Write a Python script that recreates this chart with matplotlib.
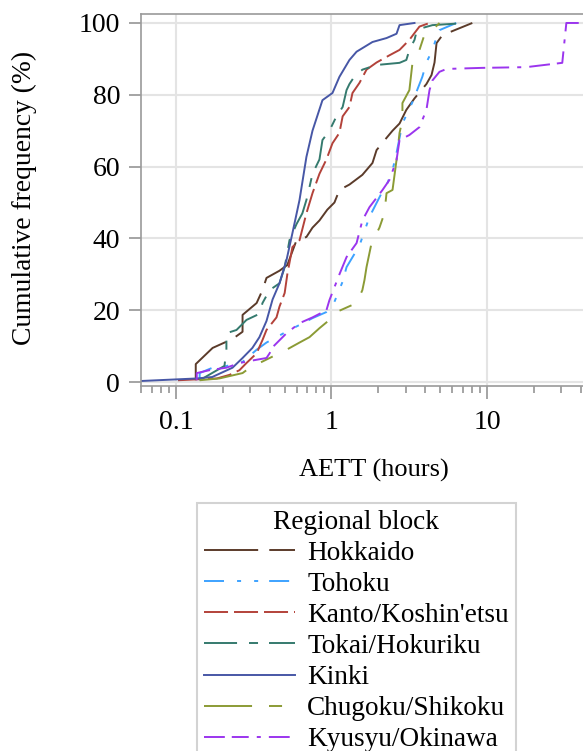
import matplotlib
matplotlib.use("Agg")
import matplotlib.pyplot as plt
from matplotlib.ticker import NullFormatter

# cumulative frequency curves (x = AETT in hours, y = %)
hokkaido_x = [0.134, 0.134, 0.172, 0.231, 0.268, 0.268, 0.33, 0.36, 0.382, 0.463, 0.52, 0.596, 0.69,
              0.755, 0.837, 0.94, 1.045, 1.125, 1.305, 1.58, 1.835, 1.95, 2.26, 2.47, 2.74, 3.03, 3.42,
              4.08, 4.4, 4.6, 4.74, 5.17, 6.2, 8.05]
hokkaido_y = [0.5, 5, 9.5, 12, 14, 18.7, 22, 25.6, 29, 31, 32.6, 39.5, 40.4, 43, 45, 48, 50, 53.5, 55,
              57.7, 61, 64.6, 68, 70, 72, 75.8, 79, 83, 85.5, 89, 94.4, 96.6, 98, 100]

tohoku_x = [0.142, 0.142, 0.172, 0.2, 0.268, 0.33, 0.382, 0.443, 0.537, 0.623, 0.755, 0.928, 1.015,
            1.18, 1.25, 1.513, 1.63, 1.755, 2.1, 2.29, 2.47, 2.62, 2.86, 3.32, 3.84, 4.08, 4.46, 4.74,
            4.95, 6.35]
tohoku_y = [0.5, 2.5, 4, 4.2, 5.6, 9, 11, 12.5, 14.5, 15.9, 17.8, 19.5, 21, 28, 32, 38, 42, 46, 52.6,
            55.4, 59, 63.8, 72, 78, 85, 89, 92.5, 96, 98, 100]

kanto_x = [0.103, 0.183, 0.221, 0.256, 0.284, 0.33, 0.36, 0.382, 0.443, 0.463, 0.5, 0.52, 0.561, 0.623,
           0.69, 0.755, 0.837, 0.928, 1.015, 1.125, 1.18, 1.305, 1.365, 1.513, 1.68, 1.95, 2.36, 2.74,
           3.17, 3.42, 3.68, 4.27]
kanto_y = [0.5, 1, 2, 3.3, 5.3, 8, 11.7, 14.5, 18, 21, 24.8, 30, 37.6, 39.5, 47, 52.6, 58, 62, 66.5,
           69.4, 74, 76.6, 80.5, 83.3, 87, 89, 91, 92.5, 95.3, 97.2, 99, 100]

tokai_x = [0.142, 0.205, 0.211, 0.211, 0.245, 0.284, 0.344, 0.36, 0.4, 0.463, 0.5, 0.537, 0.596, 0.65,
           0.69, 0.722, 0.755, 0.837, 0.875, 0.97, 1.077, 1.18, 1.25, 1.305, 1.4, 1.58, 1.95, 2.74,
           3.03, 3.17, 3.42, 3.52, 3.84, 4.46, 7.4]
tokai_y = [0.5, 4.5, 9, 13.6, 14.5, 17.3, 19, 22, 25.6, 27.5, 32, 39.5, 44, 47, 50.7, 54.3, 58, 62,
           67.4, 70, 74, 76.6, 81.3, 83, 85, 87, 88.3, 88.9, 89.7, 92.5, 95.3, 97.5, 98.6, 99.4, 100]

kinki_x = [0.06, 0.136, 0.171, 0.231, 0.268, 0.31, 0.344, 0.382, 0.418, 0.463, 0.514, 0.561, 0.623,
           0.69, 0.755, 0.875, 1.015, 1.125, 1.305, 1.45, 1.835, 2.26, 2.62, 2.74, 3.42]
kinki_y = [0.3, 1, 1.4, 4, 6.7, 9.5, 12.5, 17, 23, 27.5, 34, 41.5, 50.7, 62.7, 70, 78.5, 80.5, 85,
           89.7, 92, 94.7, 95.8, 97, 99.4, 100]

chugoku_x = [0.142, 0.19, 0.268, 0.284, 0.344, 0.514, 0.623, 0.722, 0.837, 1.015, 1.077, 1.45, 1.58,
             1.63, 1.68, 1.81, 2.035, 2.19, 2.26, 2.47, 2.62, 2.74, 2.86, 2.86, 3.17, 3.32, 3.68, 3.96,
             4.27, 4.95]
chugoku_y = [0.5, 1, 2.5, 3.3, 5.3, 9, 11, 12.5, 15, 18, 19.5, 22, 25.6, 28.4, 32, 38.7, 43, 47, 52.6,
             53.5, 61.8, 69.4, 73, 77.7, 81.3, 89, 92.5, 96.7, 97.2, 100]

kyusyu_x = [0.136, 0.136, 0.164, 0.211, 0.256, 0.31, 0.382, 0.4, 0.418, 0.514, 0.623, 0.755, 0.928,
            0.97, 1.125, 1.25, 1.45, 1.58, 1.755, 2.13, 2.36, 2.62, 2.74, 3.17, 3.68, 4.08, 4.27, 4.46,
            4.95, 5.5, 9.35, 17.9, 30.5, 32.4, 80]
kyusyu_y = [0.5, 2.5, 3.3, 4, 5.3, 6, 6.7, 8, 9.7, 13.6, 16.4, 18, 20, 22.8, 30, 34.8, 38.7, 45, 48.7,
            53.5, 56.3, 61.8, 67.4, 68.8, 71, 75.8, 81.3, 84, 86.4, 87.2, 87.5, 87.7, 88.9, 100, 100]

labels = ["Hokkaido", "Tohoku", "Kanto/Koshin'etsu", "Tokai/Hokuriku", "Kinki",
          "Chugoku/Shikoku", "Kyusyu/Okinawa"]

plt.rcParams["font.family"] = ["Liberation Serif", "DejaVu Serif"]
plt.rcParams["lines.scale_dashes"] = False

fig = plt.figure(figsize=(5.83, 7.51), dpi=100)
ax = fig.add_axes([141 / 583, 1 - 386 / 751, (607 - 141) / 583, 372 / 751])

series = [
    (hokkaido_x, hokkaido_y, "#5b3b2a", (39, 8)),
    (tohoku_x, tohoku_y, "#3da2ff", (14.4, 9.4, 2.9, 9.4, 2.9, 7.9)),
    (kanto_x, kanto_y, "#b3423a", (17.3, 4.3)),
    (tokai_x, tokai_y, "#357a6e", (23.8, 8.6, 6.5, 7.9)),
    (kinki_x, kinki_y, "#4757a6", None),
    (chugoku_x, chugoku_y, "#8b9b35", (34.6, 12.2, 9.4, 12.2)),
    (kyusyu_x, kyusyu_y, "#9b35ee", (15, 5, 12.2, 5.8, 2.9, 5.8)),
]

handles = []
for (x, y, c, d), name in zip(series, labels):
    line, = ax.plot(x, y, color=c, lw=1.4, label=name)
    if d is not None:
        line.set_dashes(d)
    handles.append(line)

ax.set_xscale("log")
ax.set_xlim(10 ** -1.225, 10 ** 1.772)
ax.set_ylim(-1.1, 102.5)
ax.set_xticks([0.1, 1, 10])
ax.set_xticklabels(["0.1", "1", "10"])
ax.xaxis.set_minor_formatter(NullFormatter())
ax.set_yticks([0, 20, 40, 60, 80, 100])

ax.grid(True, which="major", color="#e4e4e4", lw=1.5)
ax.set_axisbelow(True)
for s in ["left", "bottom", "top"]:
    ax.spines[s].set_color("#9a9a9a")
    ax.spines[s].set_linewidth(1.2)
ax.spines["right"].set_visible(False)

ax.tick_params(which="major", direction="out", length=9, width=1.1, color="#8c8c8c",
               labelsize=20, pad=6)
ax.tick_params(axis="x", which="major", pad=8)
ax.tick_params(which="minor", direction="out", length=5, width=1.1, color="#8c8c8c")
ax.tick_params(axis="y", which="minor", left=False)

fig.text(24 / 583, 1 - 198 / 751, "Cumulative frequency (%)", rotation=90,
         ha="center", va="center", fontsize=19.8)
fig.text(374 / 583, 1 - 470 / 751, "AETT (hours)", ha="center", va="center", fontsize=19)

leg = fig.legend(handles, labels, loc="upper left", bbox_to_anchor=(197 / 583, 1 - 503 / 751),
                 title="Regional block", fontsize=19.6, title_fontsize=19.6,
                 handlelength=3.35, handletextpad=0.45, labelspacing=0.22, borderpad=0.25,
                 frameon=True, fancybox=False, edgecolor="#c8c8c8", borderaxespad=0)
leg.get_frame().set_linewidth(1.5)

fig.savefig("out.png", dpi=100)
